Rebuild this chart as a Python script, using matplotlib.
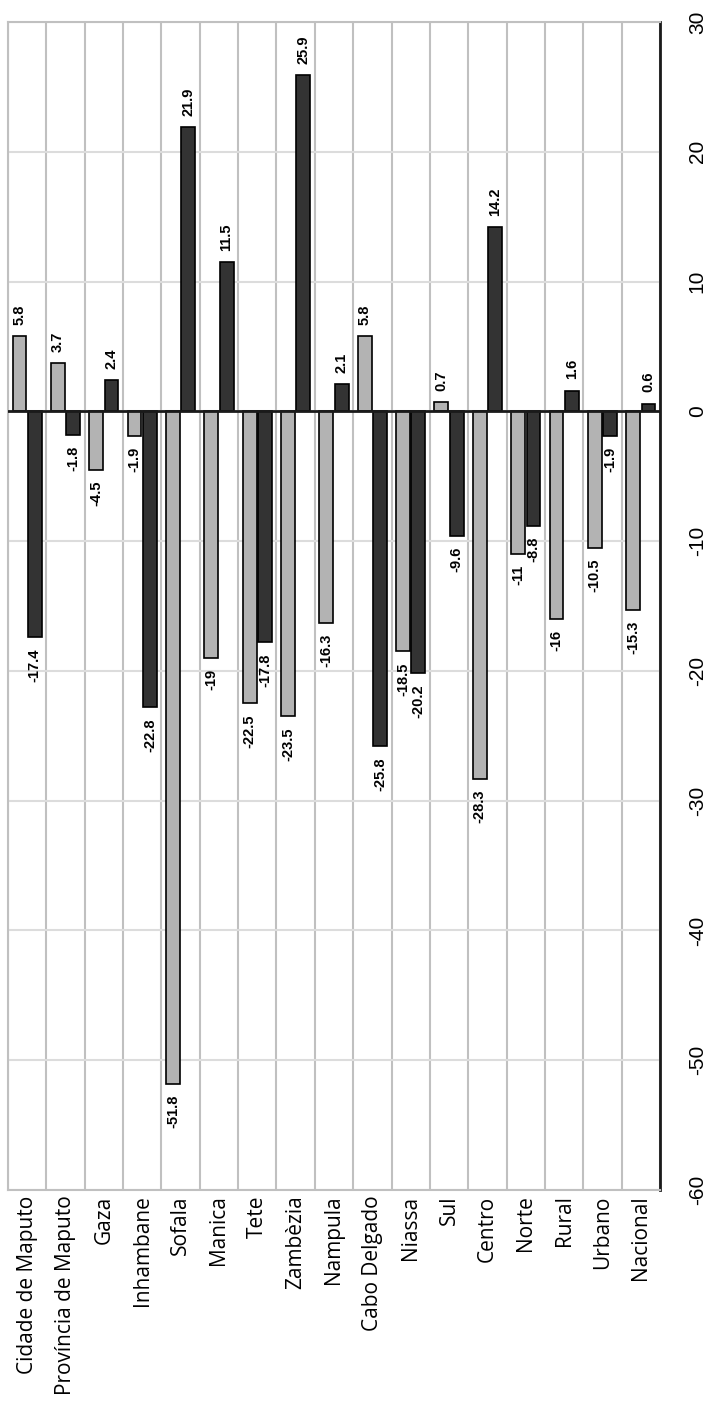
import matplotlib
matplotlib.use('Agg')
import matplotlib.pyplot as plt
import numpy as np

plt.rcParams['axes.unicode_minus'] = False

# Data
categories = ['Cidade de Maputo', 'Província de Maputo', 'Gaza', 'Inhambane', 'Sofala',
              'Manica', 'Tete', 'Zambèzia', 'Nampula', 'Cabo Delgado', 'Niassa',
              'Sul', 'Centro', 'Norte', 'Rural', 'Urbano', 'Nacional']
serie_clara = [5.8, 3.7, -4.5, -1.9, -51.8, -19, -22.5, -23.5, -16.3, 5.8, -18.5,
               0.7, -28.3, -11, -16, -10.5, -15.3]
serie_escura = [-17.4, -1.8, 2.4, -22.8, 21.9, 11.5, -17.8, 25.9, 2.1, -25.8, -20.2,
                -9.6, 14.2, -8.8, 1.6, -1.9, 0.6]
value_ticks = [-60, -50, -40, -30, -20, -10, 0, 10, 20, 30]

fig = plt.figure(figsize=(7.09, 14.03), dpi=100)
ax = fig.add_axes([8 / 709, 1 - 1190 / 1403, 652 / 709, 1168 / 1403])

x = np.arange(len(categories))
w = 0.36
light = ax.bar(x - 0.2, serie_clara, w, color='#b3b3b3', edgecolor='black', linewidth=1.2, zorder=3)
dark = ax.bar(x + 0.2, serie_escura, w, color='#333333', edgecolor='black', linewidth=1.2, zorder=3)

# Data labels
for bars, vals in [(light, serie_clara), (dark, serie_escura)]:
    for b, v in zip(bars, vals):
        cx = b.get_x() + b.get_width() / 2
        off = 8 if v >= 0 else -8
        ax.annotate(f'{v:g}', xy=(cx, v), xytext=(0, off), textcoords='offset points',
                    rotation=90, ha='center', va='bottom' if v >= 0 else 'top',
                    fontsize=10.5, fontweight='bold', family='Liberation Sans',
                    zorder=4)

ax.set_xlim(-0.5, len(categories) - 0.5)
ax.set_ylim(-60, 30)
ax.set_yticks(value_ticks)
ax.yaxis.tick_right()
ax.tick_params(axis='y', length=0, pad=20, labelsize=15, labelrotation=90)
for t in ax.get_yticklabels():
    t.set_family('Liberation Sans')
    t.set_va('center')

ax.set_xticks(x)
ax.set_xticklabels(categories, rotation=90, fontsize=15, family='Open Sans')
ax.tick_params(axis='x', length=0, pad=4)

# Gridlines
ax.set_xticks(np.arange(-0.5, len(categories)), minor=True)
ax.tick_params(axis='x', which='minor', length=0)
ax.grid(axis='x', which='minor', color='#c0c0c0', linewidth=1.5, zorder=0)
ax.grid(axis='y', which='major', color='#dcdcdc', linewidth=1.5, zorder=0)
ax.axhline(0, color='#1a1a1a', linewidth=2, zorder=5)

for s in ['left', 'top', 'bottom']:
    ax.spines[s].set_color('#c0c0c0')
    ax.spines[s].set_linewidth(1.5)
ax.spines['right'].set_color('#1a1a1a')
ax.spines['right'].set_linewidth(2)

fig.savefig('out.png', dpi=100)
